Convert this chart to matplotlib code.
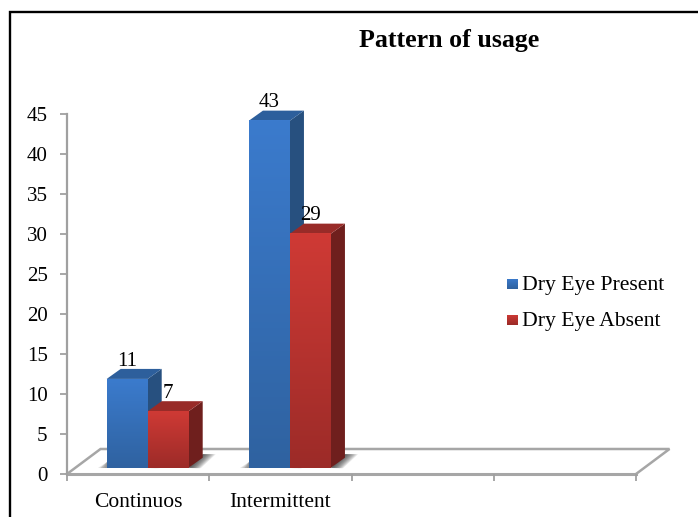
import numpy as np
import matplotlib
matplotlib.use("Agg")
import matplotlib.pyplot as plt
from matplotlib.colors import LinearSegmentedColormap
from matplotlib.patches import Polygon
from matplotlib.lines import Line2D

categories = ["Continuos", "Intermittent"]
present = [11, 43]
absent = [7, 29]
series_names = ["Dry Eye Present", "Dry Eye Absent"]
yticks = list(range(0, 50, 5))
title = "Pattern of usage"

W, H = 698, 517
plt.rcParams["font.family"] = ["Liberation Serif", "DejaVu Serif"]
fig = plt.figure(figsize=(W / 100, H / 100), dpi=100, facecolor="white")

# figure frame (black rule on top and left only)
fig.add_artist(Line2D([9.5 / W, 9.5 / W, 1], [0, 1 - 11.5 / H, 1 - 11.5 / H],
                      color="black", lw=1.7, solid_joinstyle="miter"))

L, R, T, B = 67, 636, 113.5, 474
ax = fig.add_axes([L / W, 1 - B / H, (R - L) / W, (B - T) / H])
ax.patch.set_alpha(0)
for s in ("top", "right", "bottom"):
    ax.spines[s].set_visible(False)
ax.spines["left"].set_color("#a0a0a0")
ax.spines["left"].set_linewidth(1.6)
ax.set_yticks(yticks)
ax.set_xticks([0, 1, 2, 3, 4])
ax.set_xticklabels([])
ax.tick_params(axis="y", length=5, width=1.3, color="#a0a0a0", labelsize=15, pad=9)
ax.tick_params(axis="x", length=5, width=1.3, color="#a0a0a0")
ax.set_zorder(2)

px_x = 4 / (R - L)
px_y = 45 / (B - T)
DX, DY = 14 * px_x, 10 * px_y      # bar depth
FX, FY = 33.5 * px_x, 25 * px_y    # floor depth
BASE = 6.3 * px_y
SCALE = 1.0075

# floor
floor_col = "#a6a6a6"
ax.plot([0, 4], [0, 0], color=floor_col, lw=2.2, clip_on=False, zorder=1)
ax.plot([0, FX, 4 + FX, 4], [0, FY, FY, 0], color=floor_col, lw=1.8, clip_on=False, zorder=1,
        solid_joinstyle="miter")


def bar3d(x0, w, value, top, bot, side, lid):
    y0, y1 = BASE, BASE + value * SCALE
    x1 = x0 + w
    # soft floor shadow, stacked translucent layers
    n = 10
    for i in range(n):
        e = (i + 1) / n
        ax.add_patch(Polygon([[x1, y0], [x1 + DX, y0 + DY * 1.35],
                              [x1 + DX + 13 * px_x * e, y0 + DY * 1.35],
                              [x1 + 12 * px_x * e, y0 - 0.5 * px_y]],
                             closed=True, fc="#202020", ec="none", alpha=0.11,
                             clip_on=False, zorder=2))
    for i in range(5):
        e = (i + 1) / 5
        ax.add_patch(Polygon([[x0 - 9 * px_x * e, y0], [x0, y0], [x0, y0 + 6 * px_y]], closed=True,
                             fc="#303030", ec="none", alpha=0.13, clip_on=False, zorder=2))
    cmap = LinearSegmentedColormap.from_list("g", [bot, top])
    ax.imshow(np.linspace(1, 0, 128).reshape(-1, 1), cmap=cmap, aspect="auto",
              extent=(x0, x1, y0, y1), vmin=0, vmax=1, zorder=4,
              clip_on=False, interpolation="bilinear")
    ax.add_patch(Polygon([[x1, y0], [x1 + DX, y0 + DY], [x1 + DX, y1 + DY], [x1, y1]],
                         closed=True, fc=side, ec="none", clip_on=False, zorder=3))
    ax.add_patch(Polygon([[x0, y1], [x0 + DX, y1 + DY], [x1 + DX, y1 + DY], [x1, y1]],
                         closed=True, fc=lid, ec="none", clip_on=False, zorder=3.5))


bar_w = 41 * px_x
first = 39.7 * px_x
for i, (p, a) in enumerate(zip(present, absent)):
    bar3d(i + first, bar_w, p, "#3b7bcd", "#2f62a0", "#27507f", "#2d5f9c")
    bar3d(i + first + bar_w, bar_w, a, "#cf3a35", "#9c2b28", "#6f1f1d", "#982b28")
    ax.text(i + first + bar_w * 0.5, BASE + p * SCALE + DY - 0.2, str(p),
            ha="center", va="bottom", fontsize=15, color="black", zorder=6, clip_on=False)
    ax.text(i + first + bar_w * 1.5, BASE + a * SCALE + DY - 0.2, str(a),
            ha="center", va="bottom", fontsize=15, color="black", zorder=6, clip_on=False)
    ax.text(i + 0.5, -3.5, categories[i], ha="center", va="center", fontsize=15.5,
            color="black", clip_on=False)
ax.set_xlim(0, 4)
ax.set_ylim(0, 45)

# legend
for (name, y, top_c, bot_c) in [(series_names[0], 285.5, "#3b7bcd", "#2f62a0"),
                                (series_names[1], 321.5, "#cf3a35", "#9c2b28")]:
    sw = fig.add_axes([507 / W, 1 - (y + 4) / H, 11 / W, 11 / H])
    sw.imshow(np.linspace(0, 1, 16).reshape(-1, 1),
              cmap=LinearSegmentedColormap.from_list("l", [top_c, bot_c]), aspect="auto")
    sw.axis("off")
    fig.text(522 / W, 1 - y / H, name, ha="left", va="center", fontsize=15.6, color="black")

fig.text(449.5 / W, 1 - 41 / H, title, ha="center", va="center", fontsize=18.6,
         fontweight="bold", color="black")

fig.savefig("out.png", dpi=100, facecolor="white")
